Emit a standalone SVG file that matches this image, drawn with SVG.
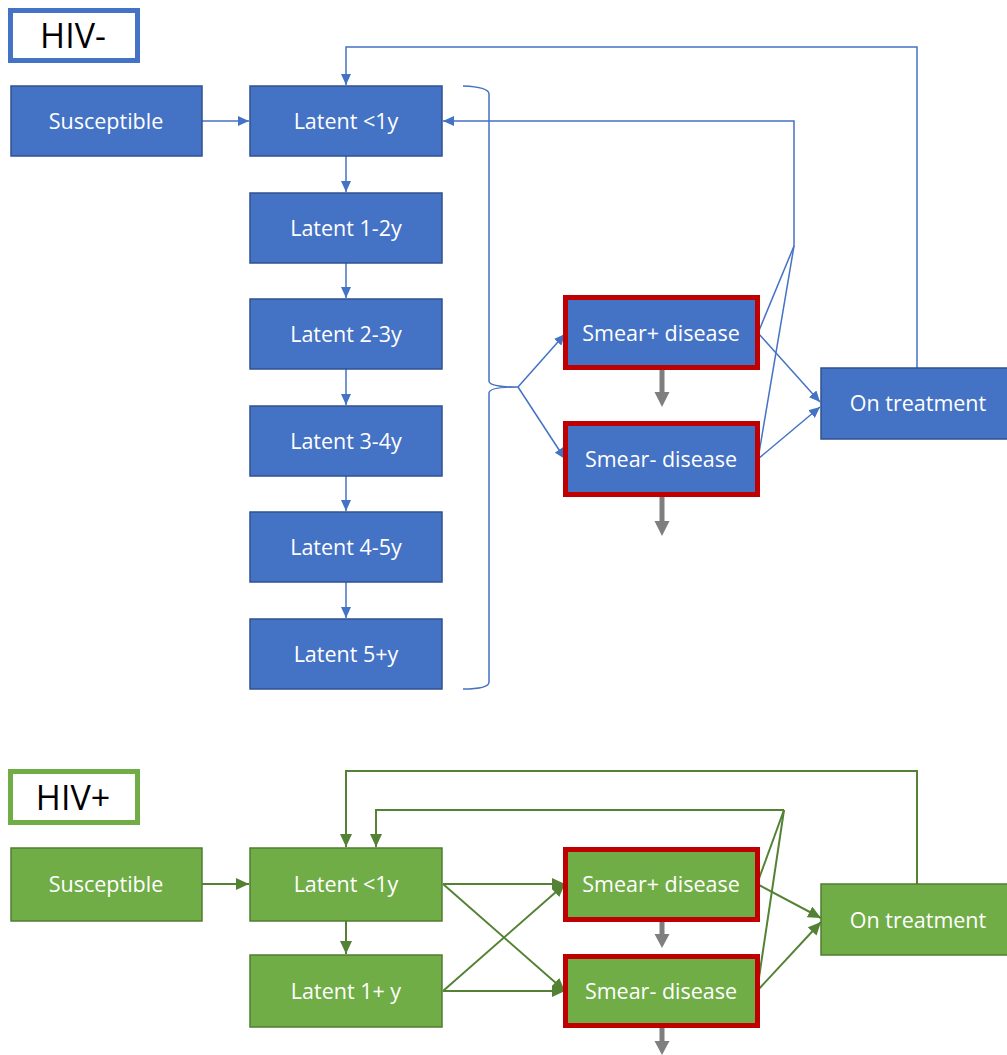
<svg xmlns="http://www.w3.org/2000/svg" width="1007" height="1055" viewBox="0 0 1007 1055">
<defs>
<style>
.bn{fill:#4472C4;stroke:#2F528F;stroke-width:1.5}
.gn{fill:#70AD47;stroke:#507E32;stroke-width:1.5}
.red{stroke:#C00000;stroke-width:5}
.t{font-family:"Open Sans","Liberation Sans",sans-serif;font-size:21.5px;fill:#FFFFFF;text-anchor:middle}
.h{font-family:"Open Sans","Liberation Sans",sans-serif;font-size:34px;fill:#000000;text-anchor:middle}
.bl{fill:none;stroke:#4472C4;stroke-width:1.5}
.gl{fill:none;stroke:#548235;stroke-width:2}
.gray{fill:#7F7F7F}
</style>
<marker id="ab" markerUnits="userSpaceOnUse" markerWidth="11" markerHeight="10" refX="11" refY="5" orient="auto" viewBox="0 0 11 10"><path d="M0,0 L11,5 L0,10 z" fill="#4472C4"/></marker>
<marker id="ag" markerUnits="userSpaceOnUse" markerWidth="13" markerHeight="12" refX="13" refY="6" orient="auto" viewBox="0 0 13 12"><path d="M0,0 L13,6 L0,12 z" fill="#548235"/></marker>
</defs>

<g id="connectors">
<!-- HIV- -->
<line class="bl" x1="202" y1="121" x2="249" y2="121" marker-end="url(#ab)"/>
<line class="bl" x1="346" y1="156" x2="346" y2="192" marker-end="url(#ab)"/>
<line class="bl" x1="346" y1="263" x2="346" y2="298" marker-end="url(#ab)"/>
<line class="bl" x1="346" y1="369" x2="346" y2="405" marker-end="url(#ab)"/>
<line class="bl" x1="346" y1="476" x2="346" y2="511" marker-end="url(#ab)"/>
<line class="bl" x1="346" y1="582" x2="346" y2="618" marker-end="url(#ab)"/>
<polyline class="bl" points="917,368 917,47 346,47 346,85" marker-end="url(#ab)"/>
<polyline class="bl" points="794,246 794,121 443,121" marker-end="url(#ab)"/>
<line class="bl" x1="758" y1="333" x2="794" y2="246"/>
<line class="bl" x1="758" y1="459" x2="794" y2="246"/>
<path class="bl" d="M463,86 Q489,87 489,94 L489,381 Q489,387 518,387 Q489,387 489,393 L489,682 Q489,689 463,689"/>
<line class="bl" x1="518" y1="387" x2="565" y2="334" marker-end="url(#ab)"/>
<line class="bl" x1="518" y1="387" x2="565" y2="459" marker-end="url(#ab)"/>
<line class="bl" x1="758" y1="333" x2="820" y2="402" marker-end="url(#ab)"/>
<line class="bl" x1="758" y1="459" x2="820" y2="407" marker-end="url(#ab)"/>
<!-- HIV+ -->
<line class="gl" x1="202" y1="884" x2="249" y2="884" marker-end="url(#ag)"/>
<line class="gl" x1="346" y1="921" x2="346" y2="954" marker-end="url(#ag)"/>
<polyline class="gl" points="917,884 917,771 346,771 346,847" marker-end="url(#ag)"/>
<polyline class="gl" points="784,810 376,810 376,847" marker-end="url(#ag)"/>
<line class="gl" x1="757" y1="884" x2="784" y2="810"/>
<line class="gl" x1="757" y1="991" x2="784" y2="810"/>
<line class="gl" x1="443" y1="884" x2="565" y2="884" marker-end="url(#ag)"/>
<line class="gl" x1="443" y1="884" x2="565" y2="991" marker-end="url(#ag)"/>
<line class="gl" x1="443" y1="991" x2="565" y2="884" marker-end="url(#ag)"/>
<line class="gl" x1="443" y1="991" x2="565" y2="991" marker-end="url(#ag)"/>
<line class="gl" x1="757" y1="884" x2="821" y2="918" marker-end="url(#ag)"/>
<line class="gl" x1="757" y1="991" x2="821" y2="922" marker-end="url(#ag)"/>
<!-- gray outflows -->
<path class="gray" d="M659.5,370 H664.5 V392 H669.5 L662,407 L654.5,392 H659.5 Z"/>
<path class="gray" d="M659.5,497 H664.5 V521 H669.5 L662,536 L654.5,521 H659.5 Z"/>
<path class="gray" d="M659.5,922 H664.5 V934 H669.5 L662,948 L654.5,934 H659.5 Z"/>
<path class="gray" d="M659.5,1028 H664.5 V1041 H669.5 L662,1055 L654.5,1041 H659.5 Z"/>
</g>

<g id="label-hivneg"><rect x="10.5" y="10.5" width="127" height="50" fill="#FFFFFF" stroke="#4472C4" stroke-width="5"/><text class="h" x="73" y="48">HIV-</text></g>
<g id="neg-susceptible"><rect class="bn" x="11" y="86" width="191" height="70"/><text class="t" x="106" y="129">Susceptible</text></g>
<g id="neg-latent0"><rect class="bn" x="250" y="86" width="192" height="70"/><text class="t" x="346" y="129">Latent &lt;1y</text></g>
<g id="neg-latent1"><rect class="bn" x="250" y="193" width="192" height="70"/><text class="t" x="346" y="236">Latent 1-2y</text></g>
<g id="neg-latent2"><rect class="bn" x="250" y="299" width="192" height="70"/><text class="t" x="346" y="342">Latent 2-3y</text></g>
<g id="neg-latent3"><rect class="bn" x="250" y="406" width="192" height="70"/><text class="t" x="346" y="449">Latent 3-4y</text></g>
<g id="neg-latent4"><rect class="bn" x="250" y="512" width="192" height="70"/><text class="t" x="346" y="555">Latent 4-5y</text></g>
<g id="neg-latent5"><rect class="bn" x="250" y="619" width="192" height="70"/><text class="t" x="346" y="662">Latent 5+y</text></g>
<g id="neg-smearpos"><rect x="565.5" y="297.5" width="192" height="70" fill="#4472C4" class="red"/><text class="t" x="661" y="341">Smear+ disease</text></g>
<g id="neg-smearneg"><rect x="565.5" y="423.5" width="192" height="71" fill="#4472C4" class="red"/><text class="t" x="661" y="467">Smear- disease</text></g>
<g id="neg-treatment"><rect class="bn" x="821" y="368" width="190" height="71"/><text class="t" x="918" y="411">On treatment</text></g>

<g id="label-hivpos"><rect x="10.5" y="771.5" width="127" height="51" fill="#FFFFFF" stroke="#70AD47" stroke-width="5"/><text class="h" x="73" y="810">HIV+</text></g>
<g id="pos-susceptible"><rect class="gn" x="11" y="848" width="191" height="73"/><text class="t" x="106" y="892">Susceptible</text></g>
<g id="pos-latent0"><rect class="gn" x="250" y="848" width="192" height="73"/><text class="t" x="346" y="892">Latent &lt;1y</text></g>
<g id="pos-latent1"><rect class="gn" x="250" y="955" width="192" height="72"/><text class="t" x="346" y="999">Latent 1+ y</text></g>
<g id="pos-smearpos"><rect x="565.5" y="849.5" width="192" height="70" fill="#70AD47" class="red"/><text class="t" x="661" y="892">Smear+ disease</text></g>
<g id="pos-smearneg"><rect x="565.5" y="956.5" width="192" height="69" fill="#70AD47" class="red"/><text class="t" x="661" y="999">Smear- disease</text></g>
<g id="pos-treatment"><rect class="gn" x="821" y="884" width="190" height="71"/><text class="t" x="918" y="928">On treatment</text></g>
</svg>
